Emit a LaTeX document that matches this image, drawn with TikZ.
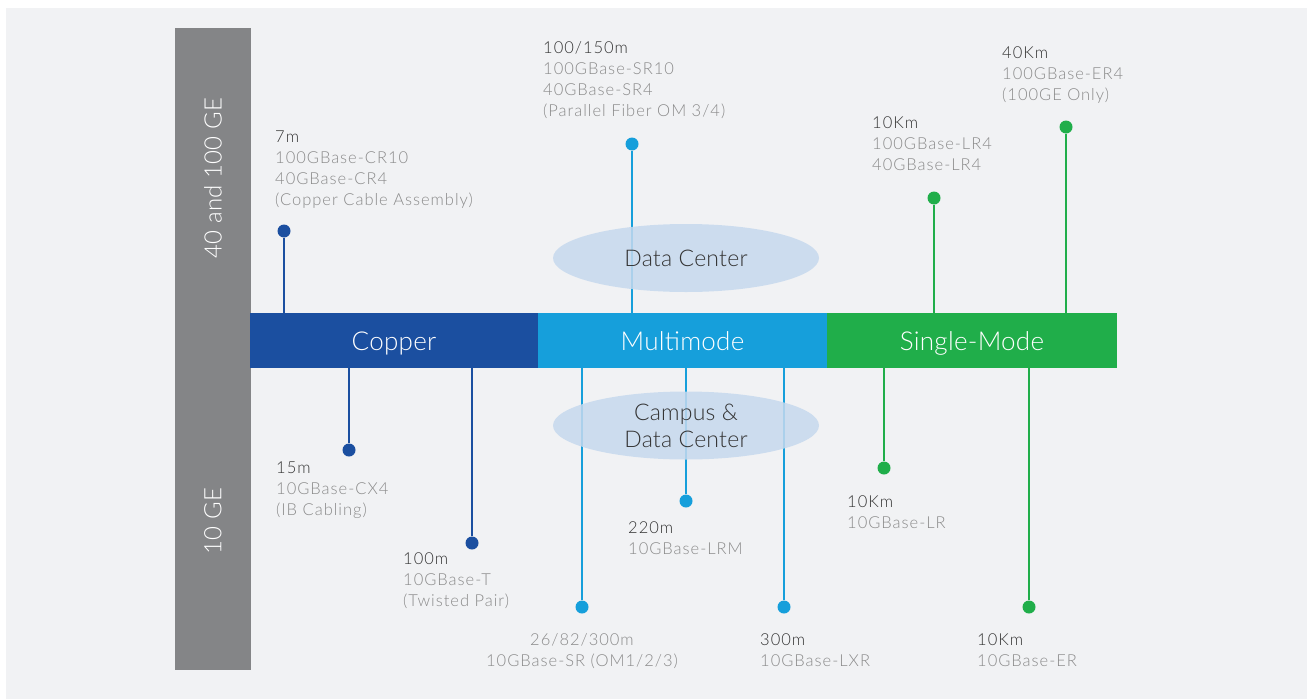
\documentclass[tikz,border=0pt]{standalone}
\usepackage{fontspec}
\setmainfont{Lato}[UprightFont={* Light}]
\newfontfamily\lblfont{Lato}[UprightFont={* Light}, LetterSpace=6]
\newfontfamily\barfont{Lato}[UprightFont={* Light}, LetterSpace=1]
\usetikzlibrary{shapes.geometric}
\definecolor{panel}{HTML}{F1F2F4}
\definecolor{cu}{HTML}{1B4FA0}
\definecolor{mm}{HTML}{169FDB}
\definecolor{sm}{HTML}{20AE4A}
\definecolor{gbar}{HTML}{848587}
\definecolor{ellc}{HTML}{C6D9EE}
\definecolor{dk}{HTML}{333333}
\definecolor{lt}{HTML}{8A8A8A}
\tikzset{
  seg/.style={draw=none, minimum height=55pt, inner sep=0, text height=19pt, text depth=0pt, text=white, font=\barfont\fontsize{26}{30}\selectfont},
  dot/.style={circle, minimum size=13pt, inner sep=0, draw=none},
  stem/.style={line width=2.2pt},
  lbl/.style={anchor=north west, inner sep=0, align=left, text=lt, font=\lblfont\fontsize{16.5}{21}\selectfont},
  clbl/.style={anchor=north, inner sep=0, align=center, text=lt, font=\lblfont\fontsize{16.5}{21}\selectfont},
  zone/.style={ellipse, fill=ellc, fill opacity=0.85, text opacity=1, text=dk, minimum width=266pt, minimum height=68pt, inner sep=0, align=center, font=\barfont\fontsize{23}{27}\selectfont},
  side/.style={rotate=90, text=white, inner sep=0, font=\barfont\fontsize{24}{28}\selectfont}
}
\begin{document}
\begin{tikzpicture}[x=1pt,y=-1pt]
\useasboundingbox (0,0) rectangle (1307,699);
\fill[white] (0,0) rectangle (1307,699);
\fill[panel] (6,8) rectangle (1307,699);
% side bar
\node[fill=gbar, minimum width=76pt, minimum height=642pt, inner sep=0] (gb) at (213,349) {};
\node[side] (t40) at (213,178) {40 and 100 GE};
\node[side] (t10) at (213,521) {10 GE};
% main bar
\node[seg, fill=cu, minimum width=288pt] (cu) at (394,340.5) {Copper};
\node[seg, fill=mm, minimum width=289pt] (mm) at (682.5,340.5) {Multimode};
\node[seg, fill=sm, minimum width=290pt] (sm) at (972,340.5) {Single-Mode};
% dots
\node[dot, fill=cu] (p7) at (284,231) {};
\node[dot, fill=cu] (p15) at (349,450) {};
\node[dot, fill=cu] (p100) at (472,543) {};
\node[dot, fill=mm] (p150) at (632,144) {};
\node[dot, fill=mm] (psr) at (582,607) {};
\node[dot, fill=mm] (plrm) at (686,501) {};
\node[dot, fill=mm] (plxr) at (784,607) {};
\node[dot, fill=sm] (plr4) at (934,198) {};
\node[dot, fill=sm] (per4) at (1066,127) {};
\node[dot, fill=sm] (plr) at (884,468) {};
\node[dot, fill=sm] (per) at (1029,607) {};
% stems
\draw[stem, cu] (p7) -- (p7 |- cu.north);
\draw[stem, cu] (p15) -- (p15 |- cu.south);
\draw[stem, cu] (p100) -- (p100 |- cu.south);
\draw[stem, mm] (p150) -- (p150 |- mm.north);
\draw[stem, mm] (psr) -- (psr |- mm.south);
\draw[stem, mm] (plrm) -- (plrm |- mm.south);
\draw[stem, mm] (plxr) -- (plxr |- mm.south);
\draw[stem, sm] (plr4) -- (plr4 |- sm.north);
\draw[stem, sm] (per4) -- (per4 |- sm.north);
\draw[stem, sm] (plr) -- (plr |- sm.south);
\draw[stem, sm] (per) -- (per |- sm.south);
% zones
\node[zone] (dc) at (686,258) {Data Center};
\node[zone] (cdc) at (686,425.5) {Campus \&\\Data Center};
% labels
\node[lbl] (l7) at (275,131) {\textcolor{dk}{7m}\\100GBase-CR10\\40GBase-CR4\\(Copper Cable Assembly)};
\node[lbl] (l150) at (543,41) {\textcolor{dk}{100/150m}\\100GBase-SR10\\40GBase-SR4\\(Parallel Fiber OM 3/4)};
\node[lbl] (llr4) at (872,116) {\textcolor{dk}{10Km}\\100GBase-LR4\\40GBase-LR4};
\node[lbl] (ler4) at (1002,46) {\textcolor{dk}{40Km}\\100GBase-ER4\\(100GE Only)};
\node[lbl] (l15) at (276,462) {\textcolor{dk}{15m}\\10GBase-CX4\\(IB Cabling)};
\node[lbl] (l100) at (403,552) {\textcolor{dk}{100m}\\10GBase-T\\(Twisted Pair)};
\node[clbl] (lsr) at (582,633) {26/82/300m\\10GBase-SR (OM1/2/3)};
\node[lbl] (llrm) at (628,521) {\textcolor{dk}{220m}\\10GBase-LRM};
\node[lbl] (llxr) at (760,633) {\textcolor{dk}{300m}\\10GBase-LXR};
\node[lbl] (llr) at (847,495) {\textcolor{dk}{10Km}\\10GBase-LR};
\node[lbl] (ler) at (977,633) {\textcolor{dk}{10Km}\\10GBase-ER};
\end{tikzpicture}
\end{document}
